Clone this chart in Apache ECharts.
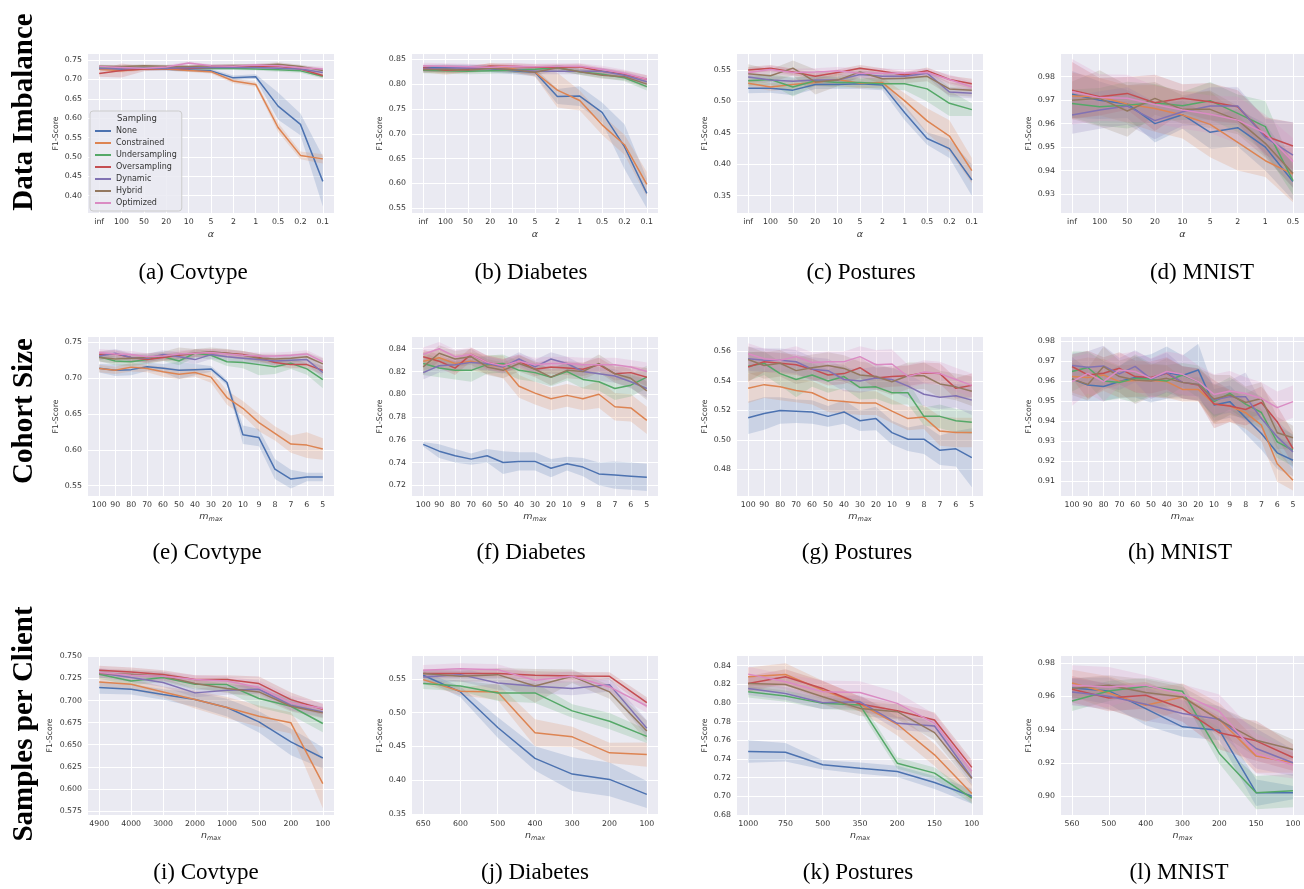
<!DOCTYPE html>
<html>
<head>
<meta charset="utf-8">
<script src="https://cdn.jsdelivr.net/npm/echarts@6/dist/echarts.min.js"></script>
<style>
  body { margin: 0; background: #fff; }
  #chart { width: 1304px; height: 889px; }
</style>
</head>
<body>
<div id="chart"></div>
<script>
// sampling strategies, in seaborn "deep" hue order
const methods = ["None", "Constrained", "Undersampling", "Oversampling", "Dynamic", "Hybrid", "Optimized"];
const colors = ["#4c72b0", "#dd8452", "#55a868", "#c44e52", "#8172b3", "#937860", "#da8bc3"];

// x tick labels
const xAlpha = ["inf", "100", "50", "20", "10", "5", "2", "1", "0.5", "0.2", "0.1"];
const xAlphaMnist = ["inf", "100", "50", "20", "10", "5", "2", "1", "0.5"];
const xMmax = ["100", "90", "80", "70", "60", "50", "40", "30", "20", "10", "9", "8", "7", "6", "5"];
const xNmaxCov = ["4900", "4000", "3000", "2000", "1000", "500", "200", "100"];
const xNmaxDia = ["650", "600", "500", "400", "300", "200", "100"];
const xNmaxPos = ["1000", "750", "500", "350", "200", "150", "100"];
const xNmaxMnist = ["560", "500", "400", "300", "200", "150", "100"];

// (a) Covtype, alpha -- means and CI half widths, one row per method
const a_mean = [
  [0.728, 0.727, 0.727, 0.726, 0.724, 0.722, 0.704, 0.707, 0.631, 0.584, 0.437],
  [0.726, 0.722, 0.727, 0.727, 0.723, 0.720, 0.696, 0.687, 0.576, 0.504, 0.495],
  [0.732, 0.730, 0.731, 0.730, 0.729, 0.728, 0.728, 0.727, 0.725, 0.722, 0.708],
  [0.715, 0.723, 0.727, 0.729, 0.728, 0.731, 0.733, 0.733, 0.734, 0.727, 0.710],
  [0.728, 0.728, 0.729, 0.729, 0.730, 0.731, 0.731, 0.731, 0.729, 0.727, 0.718],
  [0.734, 0.733, 0.735, 0.734, 0.733, 0.735, 0.736, 0.736, 0.739, 0.733, 0.723],
  [0.733, 0.731, 0.729, 0.732, 0.742, 0.735, 0.734, 0.737, 0.735, 0.730, 0.727]
];
const a_ci = [
  [0.004, 0.004, 0.004, 0.004, 0.004, 0.005, 0.006, 0.006, 0.035, 0.028, 0.065],
  [0.004, 0.004, 0.004, 0.004, 0.004, 0.005, 0.006, 0.006, 0.012, 0.010, 0.012],
  [0.004, 0.004, 0.004, 0.004, 0.004, 0.004, 0.004, 0.004, 0.005, 0.005, 0.006],
  [0.008, 0.018, 0.006, 0.004, 0.004, 0.004, 0.004, 0.004, 0.005, 0.005, 0.006],
  [0.003, 0.003, 0.003, 0.003, 0.003, 0.003, 0.003, 0.003, 0.004, 0.004, 0.005],
  [0.004, 0.004, 0.004, 0.004, 0.004, 0.004, 0.004, 0.004, 0.005, 0.005, 0.006],
  [0.005, 0.005, 0.005, 0.005, 0.004, 0.004, 0.004, 0.004, 0.005, 0.005, 0.006]
];

// (b) Diabetes, alpha
const b_mean = [
  [0.833, 0.834, 0.833, 0.831, 0.827, 0.824, 0.775, 0.776, 0.743, 0.674, 0.580],
  [0.830, 0.829, 0.830, 0.836, 0.831, 0.824, 0.788, 0.767, 0.718, 0.678, 0.598],
  [0.828, 0.827, 0.826, 0.827, 0.828, 0.830, 0.833, 0.825, 0.820, 0.813, 0.795],
  [0.833, 0.828, 0.830, 0.836, 0.836, 0.834, 0.834, 0.835, 0.826, 0.820, 0.810],
  [0.830, 0.832, 0.833, 0.832, 0.829, 0.826, 0.826, 0.826, 0.826, 0.818, 0.805],
  [0.829, 0.830, 0.828, 0.832, 0.829, 0.824, 0.833, 0.825, 0.818, 0.815, 0.800],
  [0.837, 0.836, 0.835, 0.834, 0.836, 0.835, 0.836, 0.836, 0.830, 0.822, 0.810]
];
const b_ci = [
  [0.006, 0.006, 0.006, 0.007, 0.007, 0.008, 0.015, 0.020, 0.020, 0.045, 0.030],
  [0.006, 0.010, 0.006, 0.006, 0.007, 0.009, 0.035, 0.020, 0.020, 0.020, 0.025],
  [0.006, 0.006, 0.006, 0.006, 0.006, 0.006, 0.006, 0.006, 0.007, 0.007, 0.008],
  [0.006, 0.006, 0.006, 0.006, 0.006, 0.006, 0.006, 0.006, 0.007, 0.007, 0.008],
  [0.006, 0.006, 0.006, 0.006, 0.006, 0.006, 0.006, 0.006, 0.007, 0.007, 0.008],
  [0.006, 0.006, 0.006, 0.006, 0.006, 0.006, 0.006, 0.006, 0.007, 0.007, 0.008],
  [0.006, 0.006, 0.006, 0.006, 0.006, 0.006, 0.006, 0.006, 0.007, 0.007, 0.008]
];

// (c) Postures, alpha
const c_mean = [
  [0.521, 0.521, 0.518, 0.527, 0.527, 0.528, 0.526, 0.482, 0.441, 0.425, 0.375],
  [0.529, 0.523, 0.527, 0.530, 0.535, 0.529, 0.530, 0.501, 0.469, 0.445, 0.390],
  [0.533, 0.535, 0.523, 0.533, 0.530, 0.530, 0.528, 0.528, 0.520, 0.497, 0.487],
  [0.550, 0.553, 0.547, 0.540, 0.546, 0.553, 0.548, 0.542, 0.549, 0.535, 0.528],
  [0.539, 0.534, 0.532, 0.534, 0.534, 0.543, 0.540, 0.540, 0.545, 0.515, 0.513],
  [0.544, 0.541, 0.553, 0.531, 0.534, 0.547, 0.536, 0.537, 0.540, 0.520, 0.518],
  [0.546, 0.551, 0.546, 0.547, 0.549, 0.545, 0.545, 0.545, 0.546, 0.535, 0.523]
];
const c_ci = [
  [0.008, 0.007, 0.008, 0.007, 0.007, 0.008, 0.008, 0.012, 0.010, 0.015, 0.025],
  [0.006, 0.006, 0.008, 0.006, 0.010, 0.008, 0.008, 0.012, 0.020, 0.025, 0.020],
  [0.008, 0.008, 0.015, 0.008, 0.008, 0.008, 0.008, 0.010, 0.020, 0.020, 0.010],
  [0.005, 0.005, 0.005, 0.005, 0.005, 0.005, 0.005, 0.005, 0.005, 0.006, 0.008],
  [0.006, 0.006, 0.006, 0.006, 0.006, 0.006, 0.006, 0.006, 0.006, 0.008, 0.008],
  [0.015, 0.010, 0.012, 0.020, 0.010, 0.008, 0.008, 0.008, 0.008, 0.010, 0.010],
  [0.006, 0.006, 0.006, 0.006, 0.006, 0.008, 0.008, 0.006, 0.006, 0.008, 0.008]
];

// (d) MNIST, alpha
const d_mean = [
  [0.9725, 0.9700, 0.9684, 0.9600, 0.9638, 0.9563, 0.9583, 0.9500, 0.9353],
  [0.9718, 0.9715, 0.9684, 0.9665, 0.9637, 0.9597, 0.9520, 0.9442, 0.9385],
  [0.9686, 0.9672, 0.9679, 0.9689, 0.9676, 0.9698, 0.9644, 0.9587, 0.9357],
  [0.9743, 0.9715, 0.9729, 0.9689, 0.9708, 0.9693, 0.9672, 0.9547, 0.9505],
  [0.9637, 0.9658, 0.9675, 0.9613, 0.9651, 0.9675, 0.9675, 0.9541, 0.9466],
  [0.9700, 0.9708, 0.9654, 0.9708, 0.9661, 0.9661, 0.9615, 0.9516, 0.9388],
  [0.9736, 0.9711, 0.9708, 0.9682, 0.9658, 0.9640, 0.9615, 0.9559, 0.9438]
];
const d_ci = [
  [0.010, 0.008, 0.006, 0.008, 0.006, 0.007, 0.008, 0.010, 0.008],
  [0.010, 0.008, 0.008, 0.010, 0.010, 0.014, 0.012, 0.007, 0.012],
  [0.006, 0.008, 0.010, 0.008, 0.006, 0.008, 0.008, 0.011, 0.006],
  [0.012, 0.008, 0.007, 0.012, 0.006, 0.008, 0.007, 0.008, 0.010],
  [0.008, 0.008, 0.008, 0.008, 0.006, 0.008, 0.008, 0.008, 0.014],
  [0.008, 0.012, 0.011, 0.007, 0.006, 0.008, 0.006, 0.006, 0.006],
  [0.014, 0.010, 0.010, 0.008, 0.008, 0.008, 0.010, 0.008, 0.010]
];

// (e) Covtype, m_max
const e_mean = [
  [0.714, 0.711, 0.712, 0.716, 0.714, 0.711, 0.712, 0.713, 0.694, 0.621, 0.617, 0.573, 0.559, 0.562, 0.562],
  [0.7135, 0.711, 0.7155, 0.7135, 0.709, 0.7055, 0.708, 0.7015, 0.673, 0.658, 0.638, 0.623, 0.608, 0.6065, 0.601],
  [0.730, 0.724, 0.723, 0.726, 0.730, 0.724, 0.735, 0.732, 0.723, 0.722, 0.719, 0.716, 0.721, 0.713, 0.698],
  [0.733, 0.734, 0.729, 0.726, 0.729, 0.732, 0.735, 0.736, 0.735, 0.733, 0.729, 0.722, 0.719, 0.719, 0.711],
  [0.731, 0.735, 0.729, 0.728, 0.733, 0.730, 0.726, 0.733, 0.730, 0.728, 0.726, 0.724, 0.725, 0.726, 0.708],
  [0.729, 0.727, 0.728, 0.729, 0.731, 0.733, 0.735, 0.737, 0.735, 0.732, 0.728, 0.727, 0.728, 0.730, 0.720],
  [0.736, 0.734, 0.733, 0.730, 0.731, 0.734, 0.735, 0.736, 0.734, 0.732, 0.731, 0.731, 0.732, 0.734, 0.723]
];
const e_ci = [
  [0.006, 0.008, 0.008, 0.006, 0.006, 0.012, 0.008, 0.004, 0.004, 0.013, 0.012, 0.014, 0.013, 0.006, 0.006],
  [0.005, 0.005, 0.006, 0.005, 0.007, 0.007, 0.006, 0.008, 0.010, 0.010, 0.012, 0.010, 0.012, 0.018, 0.015],
  [0.006, 0.006, 0.006, 0.006, 0.006, 0.006, 0.006, 0.006, 0.006, 0.008, 0.015, 0.010, 0.008, 0.008, 0.012],
  [0.005, 0.005, 0.005, 0.005, 0.005, 0.005, 0.005, 0.005, 0.005, 0.005, 0.005, 0.005, 0.005, 0.005, 0.006],
  [0.006, 0.006, 0.006, 0.006, 0.006, 0.006, 0.006, 0.006, 0.006, 0.006, 0.006, 0.006, 0.006, 0.006, 0.008],
  [0.006, 0.006, 0.006, 0.006, 0.006, 0.010, 0.006, 0.006, 0.006, 0.006, 0.006, 0.006, 0.006, 0.006, 0.008],
  [0.005, 0.005, 0.005, 0.005, 0.005, 0.005, 0.005, 0.005, 0.005, 0.005, 0.005, 0.005, 0.005, 0.005, 0.006]
];

// (f) Diabetes, m_max
const f_mean = [
  [0.756, 0.750, 0.746, 0.743, 0.746, 0.740, 0.741, 0.741, 0.735, 0.739, 0.736, 0.730, 0.729, 0.728, 0.727],
  [0.829, 0.832, 0.827, 0.829, 0.826, 0.824, 0.807, 0.801, 0.796, 0.799, 0.796, 0.800, 0.789, 0.788, 0.777],
  [0.827, 0.823, 0.821, 0.821, 0.826, 0.827, 0.821, 0.819, 0.815, 0.820, 0.813, 0.811, 0.805, 0.808, 0.815],
  [0.833, 0.829, 0.823, 0.835, 0.828, 0.825, 0.829, 0.822, 0.824, 0.823, 0.822, 0.826, 0.818, 0.819, 0.815],
  [0.819, 0.825, 0.826, 0.828, 0.827, 0.824, 0.831, 0.824, 0.831, 0.827, 0.820, 0.818, 0.816, 0.811, 0.805],
  [0.824, 0.836, 0.831, 0.833, 0.824, 0.821, 0.827, 0.822, 0.815, 0.821, 0.820, 0.827, 0.818, 0.814, 0.803],
  [0.835, 0.840, 0.833, 0.835, 0.828, 0.825, 0.829, 0.826, 0.827, 0.827, 0.826, 0.826, 0.826, 0.824, 0.820]
];
const f_ci = [
  [0.002, 0.006, 0.006, 0.005, 0.006, 0.010, 0.008, 0.008, 0.008, 0.006, 0.008, 0.010, 0.012, 0.012, 0.012],
  [0.008, 0.008, 0.008, 0.008, 0.008, 0.010, 0.010, 0.010, 0.010, 0.010, 0.010, 0.012, 0.012, 0.012, 0.012],
  [0.010, 0.008, 0.008, 0.010, 0.008, 0.008, 0.008, 0.008, 0.008, 0.008, 0.008, 0.008, 0.010, 0.010, 0.010],
  [0.006, 0.006, 0.006, 0.006, 0.006, 0.006, 0.006, 0.006, 0.006, 0.006, 0.006, 0.006, 0.006, 0.006, 0.008],
  [0.006, 0.006, 0.006, 0.006, 0.006, 0.006, 0.006, 0.006, 0.006, 0.006, 0.006, 0.006, 0.006, 0.006, 0.008],
  [0.007, 0.007, 0.007, 0.007, 0.007, 0.007, 0.007, 0.007, 0.007, 0.007, 0.007, 0.008, 0.008, 0.008, 0.008],
  [0.006, 0.006, 0.006, 0.006, 0.006, 0.006, 0.006, 0.006, 0.006, 0.006, 0.006, 0.006, 0.006, 0.006, 0.008]
];

// (g) Postures, m_max
const g_mean = [
  [0.515, 0.518, 0.520, 0.5195, 0.519, 0.516, 0.519, 0.513, 0.5145, 0.505, 0.5005, 0.5005, 0.493, 0.494, 0.488],
  [0.535, 0.5375, 0.536, 0.5335, 0.532, 0.527, 0.526, 0.525, 0.525, 0.5195, 0.5145, 0.5155, 0.506, 0.505, 0.505],
  [0.550, 0.552, 0.545, 0.541, 0.544, 0.540, 0.543, 0.5355, 0.536, 0.532, 0.532, 0.516, 0.516, 0.513, 0.512],
  [0.5495, 0.553, 0.552, 0.551, 0.548, 0.544, 0.545, 0.549, 0.542, 0.543, 0.5435, 0.5455, 0.545, 0.535, 0.537],
  [0.555, 0.554, 0.554, 0.553, 0.548, 0.547, 0.541, 0.540, 0.542, 0.541, 0.5365, 0.531, 0.529, 0.530, 0.527],
  [0.5545, 0.5505, 0.552, 0.547, 0.549, 0.5505, 0.5485, 0.544, 0.543, 0.5395, 0.5435, 0.5435, 0.538, 0.536, 0.533],
  [0.5585, 0.555, 0.554, 0.5565, 0.5525, 0.553, 0.553, 0.5565, 0.551, 0.5515, 0.543, 0.546, 0.545, 0.541, 0.537]
];
const g_ci = [
  [0.011, 0.011, 0.009, 0.008, 0.008, 0.007, 0.008, 0.007, 0.008, 0.008, 0.008, 0.010, 0.010, 0.012, 0.020],
  [0.010, 0.009, 0.009, 0.008, 0.008, 0.008, 0.008, 0.008, 0.008, 0.008, 0.008, 0.008, 0.010, 0.010, 0.010],
  [0.010, 0.008, 0.008, 0.012, 0.008, 0.008, 0.008, 0.008, 0.008, 0.008, 0.008, 0.006, 0.008, 0.008, 0.008],
  [0.010, 0.007, 0.007, 0.007, 0.007, 0.007, 0.007, 0.007, 0.007, 0.007, 0.007, 0.007, 0.007, 0.007, 0.008],
  [0.008, 0.008, 0.008, 0.008, 0.008, 0.008, 0.008, 0.008, 0.008, 0.008, 0.008, 0.008, 0.008, 0.008, 0.010],
  [0.009, 0.009, 0.009, 0.009, 0.009, 0.009, 0.009, 0.009, 0.009, 0.009, 0.009, 0.009, 0.009, 0.009, 0.010],
  [0.007, 0.007, 0.007, 0.007, 0.007, 0.007, 0.007, 0.007, 0.010, 0.010, 0.008, 0.008, 0.008, 0.008, 0.008]
];

// (h) MNIST, m_max
const h_mean = [
  [0.9610, 0.9580, 0.9572, 0.9597, 0.9618, 0.9613, 0.9642, 0.9627, 0.9655, 0.9480, 0.9497, 0.9417, 0.9338, 0.9242, 0.9205],
  [0.9622, 0.9617, 0.9630, 0.9597, 0.9602, 0.9602, 0.9597, 0.9558, 0.9558, 0.9485, 0.9475, 0.9442, 0.9380, 0.9188, 0.9105],
  [0.9647, 0.9667, 0.9600, 0.9592, 0.9613, 0.9608, 0.9600, 0.9630, 0.9597, 0.9497, 0.9538, 0.9485, 0.9443, 0.9297, 0.9255],
  [0.9672, 0.9630, 0.9638, 0.9663, 0.9622, 0.9617, 0.9638, 0.9593, 0.9580, 0.9485, 0.9475, 0.9458, 0.9493, 0.9397, 0.9263],
  [0.9677, 0.9668, 0.9675, 0.9635, 0.9673, 0.9610, 0.9642, 0.9593, 0.9583, 0.9505, 0.9522, 0.9522, 0.9413, 0.9322, 0.9247],
  [0.9610, 0.9583, 0.9672, 0.9622, 0.9605, 0.9600, 0.9613, 0.9593, 0.9583, 0.9510, 0.9530, 0.9493, 0.9513, 0.9342, 0.9317],
  [0.9597, 0.9638, 0.9597, 0.9655, 0.9647, 0.9613, 0.9647, 0.9633, 0.9597, 0.9533, 0.9550, 0.9538, 0.9513, 0.9467, 0.9497]
];
const h_ci = [
  [0.011, 0.008, 0.007, 0.008, 0.010, 0.012, 0.013, 0.010, 0.013, 0.008, 0.008, 0.008, 0.008, 0.008, 0.008],
  [0.008, 0.010, 0.008, 0.008, 0.008, 0.008, 0.008, 0.006, 0.006, 0.010, 0.008, 0.008, 0.008, 0.009, 0.005],
  [0.010, 0.008, 0.010, 0.008, 0.012, 0.008, 0.008, 0.006, 0.008, 0.008, 0.008, 0.008, 0.008, 0.008, 0.008],
  [0.006, 0.012, 0.008, 0.008, 0.008, 0.008, 0.008, 0.008, 0.008, 0.012, 0.008, 0.008, 0.008, 0.008, 0.008],
  [0.006, 0.008, 0.010, 0.008, 0.008, 0.010, 0.010, 0.008, 0.008, 0.008, 0.008, 0.012, 0.008, 0.008, 0.008],
  [0.008, 0.008, 0.010, 0.008, 0.012, 0.008, 0.010, 0.008, 0.008, 0.012, 0.010, 0.008, 0.008, 0.008, 0.006],
  [0.012, 0.010, 0.010, 0.008, 0.010, 0.010, 0.010, 0.010, 0.008, 0.010, 0.010, 0.008, 0.008, 0.008, 0.008]
];

// (i) Covtype, n_max
const i_mean = [
  [0.7146, 0.7127, 0.7067, 0.701, 0.692, 0.6758, 0.6532, 0.635],
  [0.721, 0.7184, 0.7097, 0.701, 0.692, 0.6822, 0.6747, 0.606],
  [0.7297, 0.7221, 0.7259, 0.7184, 0.718, 0.7022, 0.6935, 0.674],
  [0.7342, 0.7323, 0.7293, 0.7236, 0.7236, 0.7191, 0.701, 0.690],
  [0.7312, 0.7259, 0.7203, 0.7086, 0.7116, 0.7127, 0.6947, 0.687],
  [0.7304, 0.7297, 0.7274, 0.7191, 0.7135, 0.7097, 0.6935, 0.686],
  [0.7316, 0.7285, 0.7274, 0.7236, 0.7221, 0.7146, 0.6973, 0.691]
];
const i_ci = [
  [0.007, 0.006, 0.006, 0.008, 0.010, 0.012, 0.015, 0.012],
  [0.005, 0.006, 0.006, 0.010, 0.012, 0.012, 0.012, 0.028],
  [0.005, 0.005, 0.005, 0.006, 0.008, 0.010, 0.010, 0.010],
  [0.005, 0.005, 0.005, 0.005, 0.005, 0.008, 0.008, 0.006],
  [0.005, 0.005, 0.005, 0.005, 0.005, 0.005, 0.006, 0.006],
  [0.005, 0.005, 0.005, 0.005, 0.005, 0.006, 0.006, 0.006],
  [0.005, 0.005, 0.005, 0.005, 0.005, 0.008, 0.008, 0.006]
];

// (j) Diabetes, n_max
const j_mean = [
  [0.5554, 0.5308, 0.4781, 0.4323, 0.4091, 0.4012, 0.379],
  [0.549, 0.5318, 0.5308, 0.4702, 0.4643, 0.4406, 0.438],
  [0.5431, 0.5397, 0.5293, 0.5293, 0.5027, 0.4874, 0.465],
  [0.5579, 0.5579, 0.5579, 0.5554, 0.5544, 0.5539, 0.515],
  [0.553, 0.5564, 0.5441, 0.5392, 0.5357, 0.5416, 0.477],
  [0.5579, 0.5539, 0.5564, 0.5397, 0.5539, 0.5308, 0.473],
  [0.5628, 0.5653, 0.5638, 0.548, 0.5539, 0.5382, 0.510]
];
const j_ci = [
  [0.006, 0.008, 0.015, 0.018, 0.025, 0.025, 0.020],
  [0.006, 0.006, 0.012, 0.020, 0.015, 0.015, 0.018],
  [0.008, 0.008, 0.012, 0.015, 0.010, 0.012, 0.010],
  [0.006, 0.006, 0.006, 0.006, 0.006, 0.006, 0.008],
  [0.010, 0.010, 0.010, 0.010, 0.010, 0.010, 0.012],
  [0.006, 0.008, 0.010, 0.025, 0.010, 0.010, 0.015],
  [0.008, 0.008, 0.008, 0.008, 0.008, 0.008, 0.010]
];

// (k) Postures, n_max
const k_mean = [
  [0.7479, 0.7472, 0.7337, 0.7301, 0.7266, 0.7148, 0.700],
  [0.8279, 0.8304, 0.8137, 0.7988, 0.7771, 0.7444, 0.703],
  [0.8119, 0.8073, 0.7995, 0.7977, 0.7355, 0.7248, 0.698],
  [0.8208, 0.8279, 0.8155, 0.7988, 0.7916, 0.7817, 0.731],
  [0.8155, 0.8101, 0.8002, 0.8012, 0.7781, 0.7753, 0.720],
  [0.8208, 0.8197, 0.8066, 0.7941, 0.7906, 0.7682, 0.719],
  [0.8308, 0.8226, 0.8119, 0.8112, 0.7995, 0.7781, 0.727]
];
const k_ci = [
  [0.012, 0.010, 0.005, 0.006, 0.006, 0.007, 0.008],
  [0.010, 0.012, 0.010, 0.008, 0.012, 0.012, 0.010],
  [0.006, 0.006, 0.006, 0.006, 0.006, 0.006, 0.006],
  [0.008, 0.008, 0.008, 0.008, 0.008, 0.008, 0.008],
  [0.007, 0.007, 0.007, 0.007, 0.007, 0.007, 0.007],
  [0.008, 0.008, 0.008, 0.008, 0.008, 0.008, 0.008],
  [0.008, 0.008, 0.012, 0.012, 0.012, 0.010, 0.008]
];

// (l) MNIST, n_max
const l_mean = [
  [0.965, 0.9632, 0.9526, 0.9416, 0.9396, 0.902, 0.902],
  [0.968, 0.962, 0.9546, 0.9596, 0.946, 0.924, 0.920],
  [0.9572, 0.9632, 0.966, 0.963, 0.9256, 0.902, 0.9032],
  [0.9642, 0.959, 0.9606, 0.9526, 0.938, 0.9332, 0.9232],
  [0.9626, 0.960, 0.9552, 0.9496, 0.9462, 0.9286, 0.920],
  [0.9646, 0.9666, 0.9622, 0.9596, 0.9456, 0.9336, 0.928],
  [0.9666, 0.9656, 0.9666, 0.9612, 0.951, 0.9256, 0.9186]
];
const l_ci = [
  [0.006, 0.008, 0.010, 0.006, 0.006, 0.008, 0.004],
  [0.008, 0.010, 0.010, 0.008, 0.010, 0.010, 0.006],
  [0.006, 0.006, 0.005, 0.004, 0.006, 0.010, 0.010],
  [0.008, 0.008, 0.008, 0.008, 0.010, 0.012, 0.008],
  [0.008, 0.008, 0.010, 0.008, 0.008, 0.012, 0.008],
  [0.006, 0.006, 0.008, 0.006, 0.008, 0.010, 0.006],
  [0.012, 0.012, 0.006, 0.006, 0.010, 0.012, 0.008]
];

// y tick values per panel
const a_yt = [0.40, 0.45, 0.50, 0.55, 0.60, 0.65, 0.70, 0.75];
const b_yt = [0.55, 0.60, 0.65, 0.70, 0.75, 0.80, 0.85];
const c_yt = [0.35, 0.40, 0.45, 0.50, 0.55];
const d_yt = [0.93, 0.94, 0.95, 0.96, 0.97, 0.98];
const e_yt = [0.55, 0.60, 0.65, 0.70, 0.75];
const f_yt = [0.72, 0.74, 0.76, 0.78, 0.80, 0.82, 0.84];
const g_yt = [0.48, 0.50, 0.52, 0.54, 0.56];
const h_yt = [0.91, 0.92, 0.93, 0.94, 0.95, 0.96, 0.97, 0.98];
const i_yt = [0.575, 0.600, 0.625, 0.650, 0.675, 0.700, 0.725, 0.750];
const j_yt = [0.35, 0.40, 0.45, 0.50, 0.55];
const k_yt = [0.68, 0.70, 0.72, 0.74, 0.76, 0.78, 0.80, 0.82, 0.84];
const l_yt = [0.90, 0.92, 0.94, 0.96, 0.98];

const panels = [
  { x: xAlpha, m: a_mean, ci: a_ci, yt: a_yt, yr: [0.3554, 0.7655], dec: 2, row: 0, col: 0, cap: "(a) Covtype" },
  { x: xAlpha, m: b_mean, ci: b_ci, yt: b_yt, yr: [0.5405, 0.8607], dec: 2, row: 0, col: 1, cap: "(b) Diabetes" },
  { x: xAlpha, m: c_mean, ci: c_ci, yt: c_yt, yr: [0.3225, 0.5755], dec: 2, row: 0, col: 2, cap: "(c) Postures" },
  { x: xAlphaMnist, m: d_mean, ci: d_ci, yt: d_yt, yr: [0.9219, 0.9897], dec: 2, row: 0, col: 3, cap: "(d) MNIST" },
  { x: xMmax, m: e_mean, ci: e_ci, yt: e_yt, yr: [0.5354, 0.7576], dec: 2, row: 1, col: 0, cap: "(e) Covtype" },
  { x: xMmax, m: f_mean, ci: f_ci, yt: f_yt, yr: [0.7106, 0.8503], dec: 2, row: 1, col: 1, cap: "(f) Diabetes" },
  { x: xMmax, m: g_mean, ci: g_ci, yt: g_yt, yr: [0.462, 0.5698], dec: 2, row: 1, col: 2, cap: "(g) Postures" },
  { x: xMmax, m: h_mean, ci: h_ci, yt: h_yt, yr: [0.9027, 0.9819], dec: 2, row: 1, col: 3, cap: "(h) MNIST" },
  { x: xNmaxCov, m: i_mean, ci: i_ci, yt: i_yt, yr: [0.5705, 0.7503], dec: 3, row: 2, col: 0, cap: "(i) Covtype" },
  { x: xNmaxDia, m: j_mean, ci: j_ci, yt: j_yt, yr: [0.3485, 0.584], dec: 2, row: 2, col: 1, cap: "(j) Diabetes" },
  { x: xNmaxPos, m: k_mean, ci: k_ci, yt: k_yt, yr: [0.68, 0.8502], dec: 2, row: 2, col: 2, cap: "(k) Postures" },
  { x: xNmaxMnist, m: l_mean, ci: l_ci, yt: l_yt, yr: [0.8886, 0.9842], dec: 2, row: 2, col: 3, cap: "(l) MNIST" }
];

// layout (px)
const colLeft = [88, 412, 737, 1061];
const rowTop = [54, 337, 656];
const plotW = 246, plotH = 159;
const capX = [[193, 531, 861, 1202], [207, 531, 857, 1180], [206, 535, 858, 1179]];
const capY = [273, 553, 873];
const rowLabels = ["Data Imbalance", "Cohort Size", "Samples per Client"];
const rowLabelY = [112, 411, 724];
const xNames = ["{i|\u03b1}", "{i|m}{s|max}", "{i|n}{s|max}"];

const txt = "#333333";
const grids = [], xAxes = [], yAxes = [], series = [], graphics = [];

function hexA(hex, a) {
  const n = parseInt(hex.slice(1), 16);
  return "rgba(" + (n >> 16) + "," + ((n >> 8) & 255) + "," + (n & 255) + "," + a + ")";
}

// confidence band as one polygon, placed through the axis scales
function bandSeries(g, band, color) {
  return {
    type: "custom", xAxisIndex: g, yAxisIndex: g, silent: true, clip: true, z: 1,
    data: band,
    renderItem: (params, api) => {
      if (params.dataIndex !== 0) return null;
      const upper = band.map(d => api.coord([d[0], d[2]]));
      const lower = band.map(d => api.coord([d[0], d[1]])).reverse();
      return {
        type: "polygon",
        shape: { points: upper.concat(lower) },
        style: { fill: hexA(color, 0.2), stroke: null }
      };
    }
  };
}

panels.forEach((p, g) => {
  const n = p.x.length;
  const idx = p.x.map((_, i) => i);
  grids.push({
    left: colLeft[p.col], top: rowTop[p.row], width: plotW, height: plotH,
    show: true, backgroundColor: "#eaeaf2", borderWidth: 0
  });
  xAxes.push({
    type: "value", gridIndex: g,
    min: -0.05 * (n - 1), max: 1.05 * (n - 1),
    axisLine: { show: false },
    axisTick: { show: false, customValues: idx },
    axisLabel: {
      customValues: idx, margin: 5, fontSize: 7.8, color: txt,
      formatter: v => p.x[Math.round(v)]
    },
    splitLine: { show: true, lineStyle: { color: "#ffffff", width: 1 } },
    name: xNames[p.row], nameLocation: "middle", nameGap: p.row === 0 ? 17 : 15,
    nameTextStyle: {
      color: txt,
      rich: {
        i: { fontSize: 9.5, fontStyle: "italic", color: txt },
        s: { fontSize: 6.5, fontStyle: "italic", color: txt, padding: [5, 0, 0, 0] }
      }
    }
  });
  yAxes.push({
    type: "value", gridIndex: g, min: p.yr[0], max: p.yr[1],
    axisLine: { show: false },
    axisTick: { show: false, customValues: p.yt },
    axisLabel: {
      customValues: p.yt, margin: 6, fontSize: 7.8, color: txt,
      formatter: v => v.toFixed(p.dec)
    },
    splitLine: { show: true, lineStyle: { color: "#ffffff", width: 1 } },
    name: "F1-Score", nameLocation: "middle", nameGap: p.dec === 3 ? 34 : 28,
    nameTextStyle: { fontSize: 7.8, color: txt }
  });

  p.m.forEach((vals, s) => {
    const ci = p.ci[s];
    const band = vals.map((v, i) => [i, v - ci[i], v + ci[i]]);
    series.push(bandSeries(g, band, colors[s]));
    series.push({
      type: "line", name: methods[s], xAxisIndex: g, yAxisIndex: g,
      data: vals.map((v, i) => [i, v]),
      symbol: "none", color: colors[s],
      lineStyle: { color: colors[s], width: 1.5 }, z: 3
    });
  });

  graphics.push({
    type: "text", x: capX[p.row][p.col], y: capY[p.row],
    style: { text: p.cap, font: '23px "Liberation Serif"', fill: "#000", align: "center", verticalAlign: "middle" }
  });
});

rowLabels.forEach((t, r) => {
  graphics.push({
    type: "text", x: 25, y: rowLabelY[r], rotation: Math.PI / 2,
    style: { text: t, font: 'bold 29px "Liberation Serif"', fill: "#000", align: "center", verticalAlign: "middle" }
  });
});

// legend title
graphics.push({
  type: "text", x: 137, y: 119, z: 100,
  style: { text: "Sampling", font: '8.5px "DejaVu Sans"', fill: txt, align: "center", verticalAlign: "middle" }
});

const chart = echarts.init(document.getElementById("chart"), null, { renderer: "canvas" });
chart.setOption({
  animation: false,
  backgroundColor: "#ffffff",
  textStyle: { fontFamily: "DejaVu Sans" },
  grid: grids,
  xAxis: xAxes,
  yAxis: yAxes,
  legend: {
    data: methods, orient: "vertical", left: 90, top: 111,
    icon: "rect", itemWidth: 16, itemHeight: 2, itemGap: 2, itemTextGap: 6,
    padding: [15, 5, 3, 5],
    backgroundColor: "rgba(234,234,242,0.85)", borderColor: "#cccccc", borderWidth: 1, borderRadius: 3,
    textStyle: { fontSize: 8, color: txt, lineHeight: 10 },
    z: 50
  },
  graphic: graphics,
  series: series
});
</script>
</body>
</html>
